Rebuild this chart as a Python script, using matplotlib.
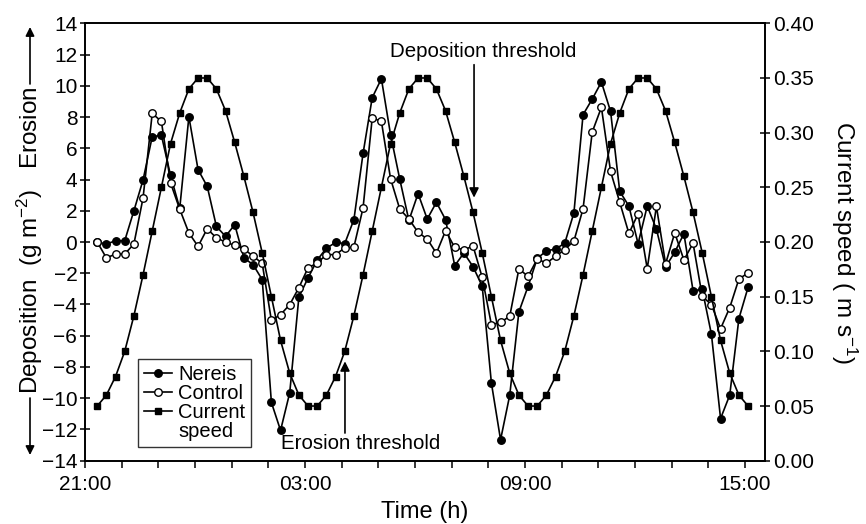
import numpy as np
import matplotlib
matplotlib.use("Agg")
import matplotlib.pyplot as plt
from matplotlib.lines import Line2D

plt.rcParams["font.family"] = ["Liberation Sans", "DejaVu Sans"]
plt.rcParams["mathtext.default"] = "regular"

# sampling: every 15 min starting 21:20 (hours after 21:00)
t_start = 20 / 60
step = 0.25

# sediment flux (g m-2), positive = erosion
nereis = [0.0, -0.13, 0.08, 0.08, 2.0, 3.97, 6.74, 6.83, 4.26, 2.15,
          8.02, 4.63, 3.56, 1.0, 0.36, 1.11, -1.02, -1.45, -2.41,
          -10.27, -12.06, -9.65, -3.52, -2.3, -1.15, -0.4, -0.03, -0.1, 1.43,
          5.67, 9.24, 10.45, 6.87, 4.03, 1.38, 3.1, 1.47, 2.54, 1.43,
          -1.52, -0.7, -1.58, -2.84, -9.03, -12.66, -9.81, -4.47,
          -2.84, -1.05, -0.57, -0.45, -0.08, 1.86,
          8.15, 9.15, 10.24, 8.36, 3.24, 2.3, -0.11, 2.3, 0.83, -1.6,
          -0.65, 0.53, -3.12, -3.03, -5.9, -11.3, -9.8, -4.9, -2.9]
control = [0.0, -1.02, -0.77, -0.77, -0.13, 2.82, 8.23, 7.72, 3.78, 2.1,
           0.58, -0.28, 0.85, 0.26, 0.0, -0.22, -0.45, -0.9, -1.37,
           -5.02, -4.65, -4.01, -2.92, -1.65, -1.35, -0.81, -0.81, -0.38, -0.32,
           2.18, 7.94, 7.72, 4.05, 2.11, 1.47, 0.62, 0.19, -0.72, 0.72,
           -0.35, -0.5, -0.26, -2.27, -5.29, -5.14, -4.76, -1.72,
           -2.2, -1.09, -1.35, -0.92, -0.49, 0.06,
           2.13, 7.04, 8.62, 4.52, 2.54, 0.55, 1.8, -1.71, 2.28, -1.4,
           0.58, -1.15, -0.08, -3.48, -4.01, -5.55, -4.2, -2.37, -1.98]
# current speed (m s-1)
speed = [0.05, 0.06, 0.077, 0.10, 0.1325, 0.17, 0.21, 0.25, 0.29, 0.318,
         0.34, 0.35, 0.35, 0.34, 0.32, 0.291, 0.26, 0.227, 0.19, 0.15,
         0.11, 0.08, 0.06, 0.05,
         0.05, 0.06, 0.077, 0.10, 0.1325, 0.17, 0.21, 0.25, 0.29, 0.318,
         0.34, 0.35, 0.35, 0.34, 0.32, 0.291, 0.26, 0.227, 0.19, 0.15,
         0.11, 0.08, 0.06, 0.05,
         0.05, 0.06, 0.077, 0.10, 0.1325, 0.17, 0.21, 0.25, 0.29, 0.318,
         0.34, 0.35, 0.35, 0.34, 0.32, 0.291, 0.26, 0.227, 0.19, 0.15,
         0.11, 0.08, 0.06, 0.05]

hours = t_start + step * np.arange(len(speed))
tick_hours = [0, 6, 12, 18]
tick_labels = ["21:00", "03:00", "09:00", "15:00"]

W, H = 866, 524
fig = plt.figure(figsize=(W / 100, H / 100), dpi=100)
ax = fig.add_axes([85 / W, 1 - 460.7 / H, 680 / W, 437.4 / H])
ax2 = ax.twinx()

l1, = ax.plot(hours, nereis, "-o", color="k", lw=1.2, ms=5.4)
l2, = ax.plot(hours, control, "-o", color="k", lw=1.2, ms=5.4,
              mfc="white", mec="k", mew=1.0)
l3, = ax2.plot(hours, speed, "-s", color="k", lw=1.2, ms=4.8)

ax.set_xlim(0, 18.545)
ax.set_ylim(-14, 14)
ax2.set_ylim(0, 0.40)
ax.set_yticks(np.arange(-14, 15, 2))
ax2.set_yticks(np.arange(0, 0.41, 0.05))
ax2.set_yticklabels([f"{v:.2f}" for v in np.arange(0, 0.41, 0.05)])
ax.set_xticks(range(19))
ax.set_xticklabels([tick_labels[tick_hours.index(h)] if h in tick_hours else ""
                    for h in range(19)])

for a in (ax, ax2):
    for s in a.spines.values():
        s.set_linewidth(1.2)
ax.tick_params(axis="y", direction="inout", length=7, width=1.1,
               labelsize=15, pad=2)
ax.tick_params(axis="x", direction="out", length=5, width=1.1,
               labelsize=15, pad=5)
ax2.tick_params(axis="y", direction="inout", length=7, width=1.1,
                labelsize=15, pad=2)

ax.set_xlabel("Time (h)", fontsize=17, labelpad=5)

# left label with erosion / deposition arrows
fig.text(30 / W, 1 - 240.5 / H, r"Deposition  (g m$^{-2}$)   Erosion",
         rotation=90, ha="center", va="center", fontsize=17.5)
arr = dict(arrowstyle="-|>", color="k", lw=1.2, mutation_scale=13,
           shrinkA=0, shrinkB=0)
ax.annotate("", xy=(30 / W, 1 - 27 / H), xytext=(30 / W, 1 - 84 / H),
            xycoords="figure fraction", textcoords="figure fraction",
            arrowprops=arr, annotation_clip=False)
ax.annotate("", xy=(30 / W, 1 - 455 / H), xytext=(30 / W, 1 - 398 / H),
            xycoords="figure fraction", textcoords="figure fraction",
            arrowprops=arr, annotation_clip=False)

fig.text(844 / W, 1 - 243 / H, r"Current speed ( m s$^{-1}$)",
         rotation=270, ha="center", va="center", fontsize=17.5)

# thresholds
ax.annotate("", xy=(10.61, 2.84), xytext=(10.61, 11.35),
            arrowprops=dict(arrowstyle="-|>", color="k", lw=1.2,
                            mutation_scale=14, shrinkA=0, shrinkB=0))
ax.text(8.32, 12.2, "Deposition threshold", fontsize=14.8,
        ha="left", va="center")
ax.annotate("", xy=(7.09, -7.64), xytext=(7.09, -12.23),
            arrowprops=dict(arrowstyle="-|>", color="k", lw=1.2,
                            mutation_scale=14, shrinkA=0, shrinkB=0))
ax.text(7.53, -12.91, "Erosion threshold", fontsize=14.8,
        ha="center", va="center")

blank = Line2D([], [], linestyle="none")
leg = ax2.legend([l1, l2, l3, blank], ["Nereis", "Control", "Current", "speed"],
                 loc="lower left", bbox_to_anchor=(0.0775, 0.032),
                 fontsize=14.5, frameon=True, fancybox=False, edgecolor="k",
                 handlelength=1.4, handletextpad=0.3, labelspacing=0.0,
                 borderpad=0.3, borderaxespad=0)
leg.get_frame().set_linewidth(1.0)

fig.savefig("out.png", dpi=100)
